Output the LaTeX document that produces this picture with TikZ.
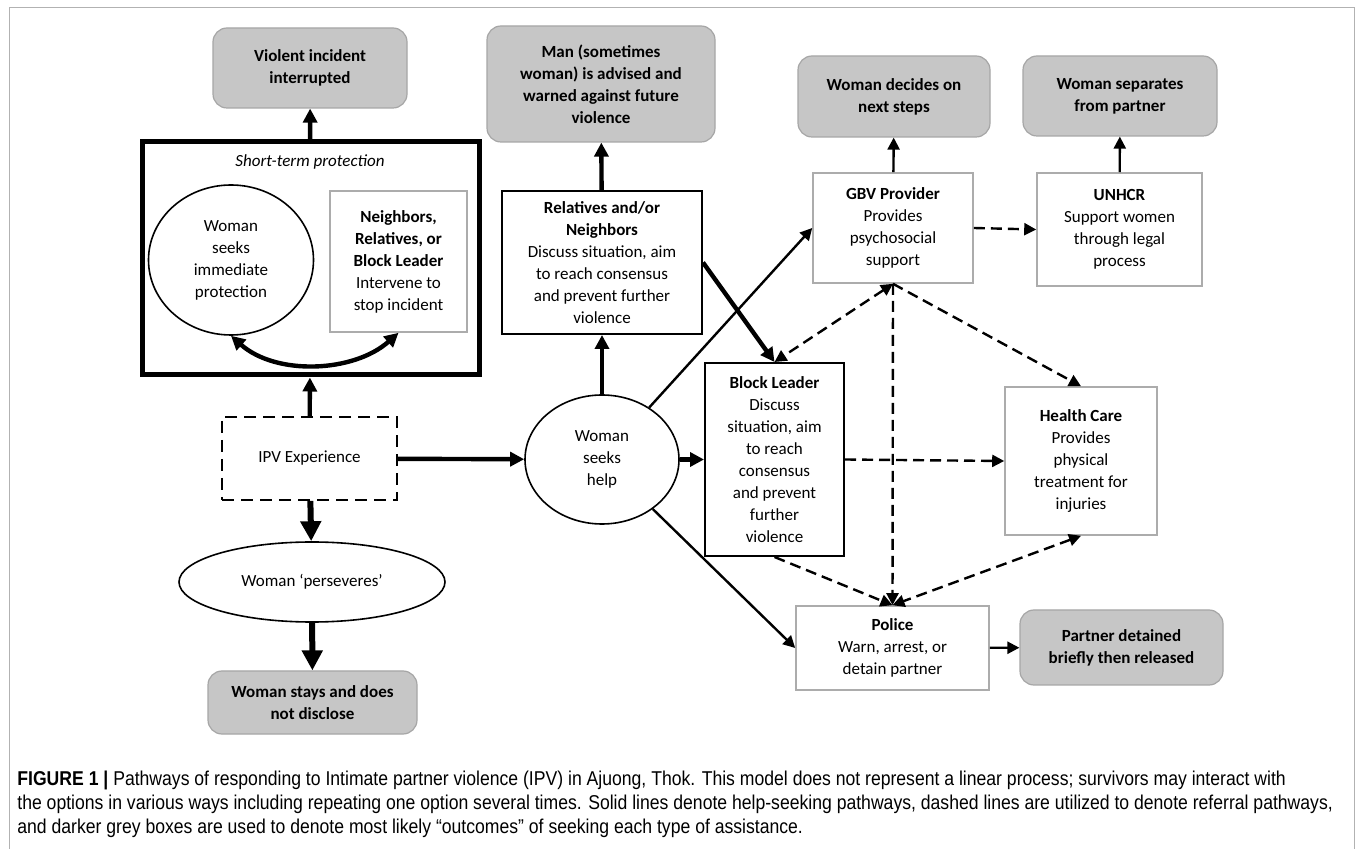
\documentclass[tikz,border=0pt]{standalone}
\usepackage{fontspec}
\setmainfont{Carlito}
\newfontfamily\capfont[FakeStretch=0.88]{Liberation Sans}
\usetikzlibrary{arrows.meta,shapes.geometric}

\begin{document}
\begin{tikzpicture}[
  x=0.5pt, y=-0.5pt,
  every node/.style={font=\fontsize{8.5}{11}\selectfont, inner sep=0pt},
  outcome/.style={draw=gray!70, fill=gray!45, rounded corners=7pt, line width=0.6pt, align=center, font=\fontsize{8.5}{11}\selectfont\bfseries},
  agent/.style={draw=gray!65, line width=0.8pt, align=center},
  keybox/.style={draw, line width=1pt, align=center},
  oval/.style={ellipse, draw, line width=0.8pt, align=center},
  seek/.style={-{Triangle[length=7pt,width=7pt]}, line width=2.2pt},
  bigseek/.style={-{Triangle[length=10pt,width=10pt]}, line width=3pt},
  thinseek/.style={-{Triangle[length=6pt,width=6pt]}, line width=1.2pt},
  refer/.style={-{Triangle[length=6pt,width=6pt]}, line width=1.2pt, dash pattern=on 5.5pt off 3pt}
]
\useasboundingbox (0,0) rectangle (1355,849);
\draw[gray!60, line width=0.5pt] (9,849) -- (9,8) -- (1354,8) -- (1354,849);

\node[outcome, minimum width=97pt, minimum height=40pt] (violent) at (310,68) {Violent incident\\ interrupted};
\node[draw, line width=2.5pt, minimum width=168.5pt, minimum height=116.5pt] (shortterm) at (310.5,258.5) {};
\node[font=\fontsize{8.5}{11}\selectfont\itshape] (stlabel) at (310,162) {Short-term protection};
\node[oval, minimum width=82.5pt, minimum height=75pt] (immed) at (231,260) {Woman\\ seeks\\ immediate\\ protection};
\node[agent, minimum width=68.5pt, minimum height=70.5pt] (neigh) at (398.5,261.5) {\textbf{Neighbors,}\\ \textbf{Relatives, or}\\ \textbf{Block Leader}\\ Intervene to\\ stop incident};
\node[draw, line width=1pt, dash pattern=on 6pt off 3.5pt, minimum width=87.5pt, minimum height=41.5pt] (ipv) at (309.5,458.5) {IPV Experience};
\node[oval, minimum width=133pt, minimum height=40pt] (persev) at (312,582) {Woman `perseveres'};
\node[outcome, minimum width=104.5pt, minimum height=31.5pt] (stays) at (312.5,702.5) {Woman stays and does\\ not disclose};

\node[outcome, minimum width=114pt, minimum height=58pt] (man) at (601,84) {Man (sometimes\\ woman) is advised and\\ warned against future\\ violence};
\node[keybox, minimum width=100pt, minimum height=71.5pt] (relat) at (602,262.5) {\textbf{Relatives and/or}\\ \textbf{Neighbors}\\ Discuss situation, aim\\ to reach consensus\\ and prevent further\\ violence};
\node[oval, minimum width=77pt, minimum height=64.5pt] (help) at (602,459.5) {Woman\\ seeks\\ help};
\node[keybox, minimum width=69.5pt, minimum height=96.5pt] (block) at (774.5,459.5) {\textbf{Block Leader}\\ Discuss\\ situation, aim\\ to reach\\ consensus\\ and prevent\\ further\\ violence};

\node[outcome, minimum width=96pt, minimum height=40.5pt] (decides) at (894,96.5) {Woman decides on\\ next steps};
\node[agent, minimum width=80pt, minimum height=55pt] (gbv) at (893,228) {\textbf{GBV Provider}\\ Provides\\ psychosocial\\ support};
\node[outcome, minimum width=97pt, minimum height=40pt] (separ) at (1120,96) {Woman separates\\ from partner};
\node[agent, minimum width=82.5pt, minimum height=56.5pt] (unhcr) at (1119.5,229.5) {\textbf{UNHCR}\\ Support women\\ through legal\\ process};
\node[agent, minimum width=76pt, minimum height=74pt] (health) at (1081,461) {\textbf{Health Care}\\ Provides\\ physical\\ treatment for\\ injuries};
\node[agent, minimum width=96.5pt, minimum height=42pt] (police) at (892.5,648) {\textbf{Police}\\ Warn, arrest, or\\ detain partner};
\node[outcome, minimum width=101.5pt, minimum height=37.5pt] (partner) at (1121.5,647.5) {Partner detained\\ briefly then released};

\draw[seek] (shortterm) -- (violent);
\draw[seek] (ipv) -- (shortterm);
\draw[seek, {Triangle[length=7pt,width=7pt]}-{Triangle[length=7pt,width=7pt]}] (immed.south) .. controls +(45,40) and +(-45,40) .. (neigh.south);
\draw[bigseek] (ipv) -- (persev);
\draw[bigseek] (persev) -- (stays);
\draw[seek] (ipv) -- (help);
\draw[seek] (help) -- (relat);
\draw[seek] (relat) -- (man);
\draw[seek] (help) -- (block);
\draw[seek] (relat.east) -- (block.north);
\draw[thinseek] (help) -- (gbv.west);
\draw[thinseek] (help) -- (police.west);
\draw[thinseek] (gbv) -- (decides);
\draw[thinseek] (unhcr) -- (separ);
\draw[thinseek] (police) -- (partner);

\draw[refer] (gbv.east) -- (unhcr.west);
\draw[refer, {Triangle[length=6pt,width=6pt]}-{Triangle[length=6pt,width=6pt]}] (gbv.south) -- (block.north);
\draw[refer] (gbv.south) -- (police.north);
\draw[refer] (gbv.south) -- (health.north);
\draw[refer] (block.east) -- (health.west);
\draw[refer] (block.south) -- (police.north);
\draw[refer, {Triangle[length=6pt,width=6pt]}-{Triangle[length=6pt,width=6pt]}] (health.south) -- (police.north);

\node[anchor=north west, align=left, font=\capfont\fontsize{10}{12}\selectfont] (caption) at (17,771) {\textbf{FIGURE 1 |} Pathways of responding to Intimate partner violence (IPV) in Ajuong, Thok. This model does not represent a linear process; survivors may interact with\\ the options in various ways including repeating one option several times. Solid lines denote help-seeking pathways, dashed lines are utilized to denote referral pathways,\\ and darker grey boxes are used to denote most likely “outcomes” of seeking each type of assistance.};
\end{tikzpicture}
\end{document}
